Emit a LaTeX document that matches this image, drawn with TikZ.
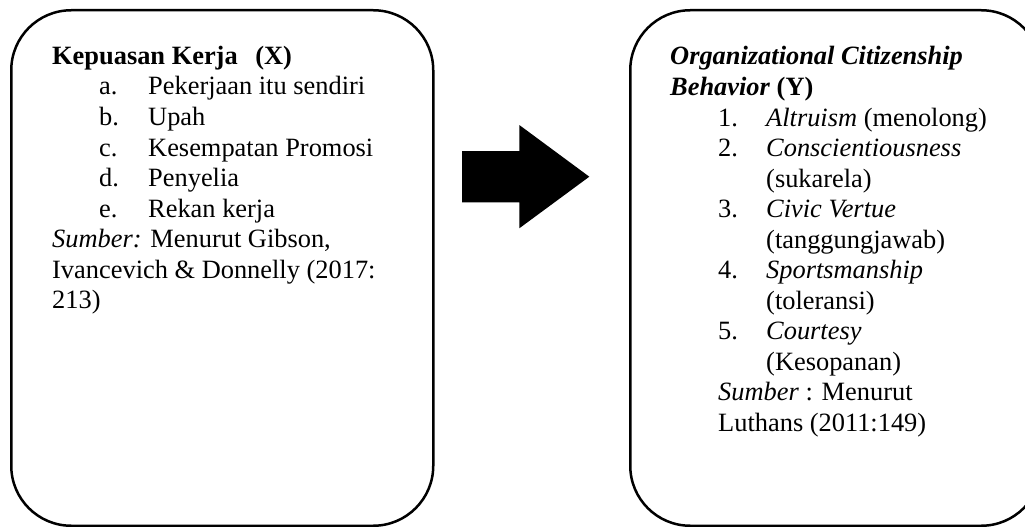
\documentclass[tikz,border=0pt]{standalone}
\usepackage{fontspec}
\setmainfont{Liberation Serif}
\begin{document}
\begin{tikzpicture}[x=1pt,y=1pt,
  box/.style={draw=black,line width=2.5pt,rounded corners=60pt,rectangle,inner sep=0pt,anchor=north west},
  txt/.style={anchor=base west,inner sep=0pt,font=\fontsize{26.4}{30.5}\selectfont},
  blockarrow/.style={fill=black,draw=none}]
\useasboundingbox (0,0) rectangle (1025,-527);
\begin{scope}
\clip (0,0) rectangle (1025,-527);
\node[box,minimum width=422pt,minimum height=515.5pt] (X) at (10,-9) {};
\node[box,minimum width=411pt,minimum height=515.5pt] (Y) at (629,-9) {};
\end{scope}
% block arrow
\fill[blockarrow] (462,-151) -- (519.3,-151) -- (519.3,-125) -- (589.3,-176.7)
  -- (519.3,-228.3) -- (519.3,-202.3) -- (462,-202.3) -- cycle;
% left box text
\node[txt] (xt) at (52,-64.5) {\textbf{Kepuasan Kerja\hspace{11pt} (X)}};
\node[txt] (xa) at (99,-95) {a.};
\node[txt] (xat) at (148,-95) {Pekerjaan itu sendiri};
\node[txt] (xb) at (99,-125.5) {b.};
\node[txt] (xbt) at (148,-125.5) {Upah};
\node[txt] (xc) at (99,-156) {c.};
\node[txt] (xct) at (148,-156) {Kesempatan Promosi};
\node[txt] (xd) at (99,-186.5) {d.};
\node[txt] (xdt) at (148,-186.5) {Penyelia};
\node[txt] (xe) at (99,-217) {e.};
\node[txt] (xet) at (148,-217) {Rekan kerja};
\node[txt] (xs1) at (52,-247.5) {\textit{Sumber:} Menurut Gibson,};
\node[txt] (xs2) at (52,-278) {Ivancevich \& Donnelly (2017:};
\node[txt] (xs3) at (52,-308.5) {213)};
% right box text
\node[txt] (yt1) at (670,-65) {\textbf{\textit{Organizational Citizenship}}};
\node[txt] (yt2) at (670,-95.5) {\textbf{\textit{Behavior} (Y)}};
\node[txt] (y1) at (718,-126) {1.};
\node[txt] (y1t) at (766,-126) {\textit{Altruism} (menolong)};
\node[txt] (y2) at (718,-156.5) {2.};
\node[txt] (y2t) at (766,-156.5) {\textit{Conscientiousness}};
\node[txt] (y2u) at (766,-187) {(sukarela)};
\node[txt] (y3) at (718,-217.5) {3.};
\node[txt] (y3t) at (766,-217.5) {\textit{Civic Vertue}};
\node[txt] (y3u) at (766,-248) {(tanggungjawab)};
\node[txt] (y4) at (718,-278.5) {4.};
\node[txt] (y4t) at (766,-278.5) {\textit{Sportsmanship}};
\node[txt] (y4u) at (766,-309) {(toleransi)};
\node[txt] (y5) at (718,-339.5) {5.};
\node[txt] (y5t) at (766,-339.5) {\textit{Courtesy}};
\node[txt] (y5u) at (766,-370) {(Kesopanan)};
\node[txt] (ys1) at (718,-400.5) {\textit{Sumber} : Menurut};
\node[txt] (ys2) at (718,-431) {Luthans (2011:149)};
\end{tikzpicture}
\end{document}
